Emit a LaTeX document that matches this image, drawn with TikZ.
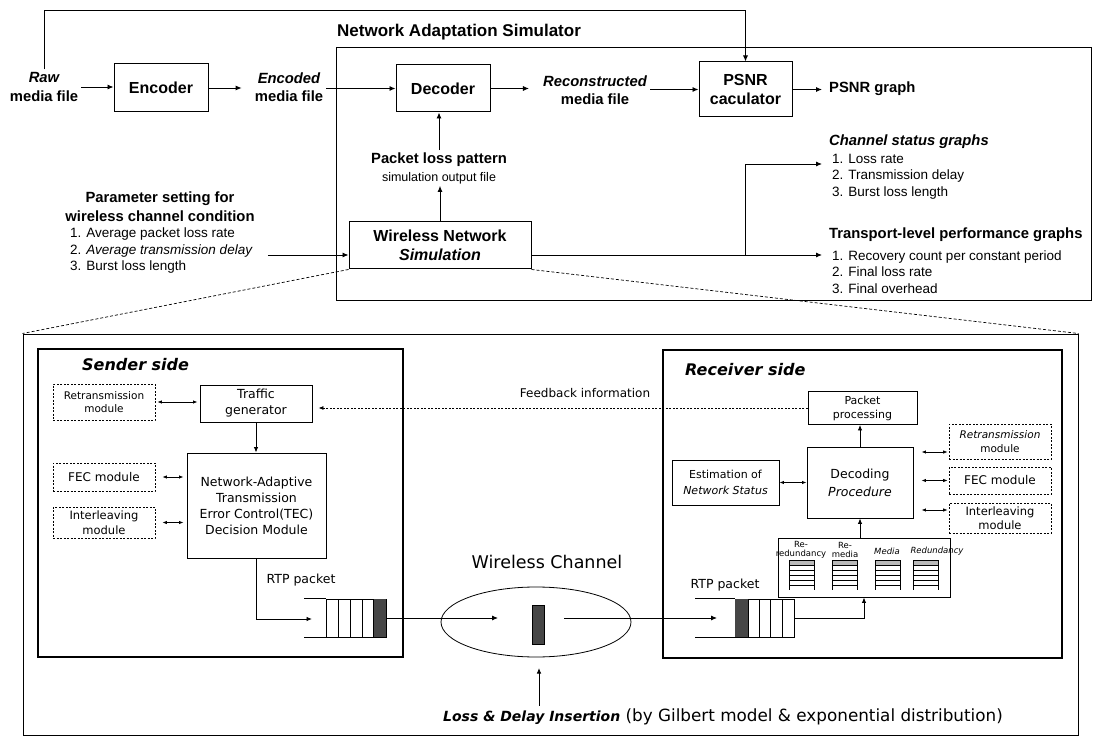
\documentclass[tikz,border=0pt]{standalone}
\usepackage{fontspec}
\setmainfont{Liberation Sans}
\newfontfamily\cfont{DejaVu Sans}
\usetikzlibrary{arrows.meta,shapes.geometric,calc}
\newcommand{\myfs}[2]{\fontsize{#1}{#2}\selectfont}
\begin{document}
\begin{tikzpicture}[x=1pt,y=-1pt,
  arr/.style={-{Latex[length=6pt,width=5pt]}, line width=0.9pt},
  sarr/.style={-{Latex[length=5.5pt,width=4.5pt]}, line width=0.9pt},
  darr/.style={{Latex[length=4.5pt,width=3.5pt]}-{Latex[length=4.5pt,width=3.5pt]}, line width=0.8pt},
  bigbox/.style={draw, line width=1pt, inner sep=0pt, font=\myfs{16}{19}\bfseries, align=center},
  lab/.style={inner sep=3pt, font=\myfs{14.8}{18.5}\bfseries, align=center},
  lst/.style={inner sep=0pt, font=\myfs{13.5}{16.5}, align=left},
  cbox/.style={draw, line width=0.9pt, inner sep=0pt, align=center, font=\cfont\myfs{12.5}{16}},
  dbox/.style={draw, dash pattern=on 2pt off 1.5pt, line width=0.8pt, inner sep=0pt, align=center, font=\cfont\myfs{10.5}{13.5}},
  zoomline/.style={dash pattern=on 3pt off 2pt, line width=0.7pt},
  fbline/.style={dash pattern=on 2pt off 1.5pt, line width=0.8pt, -{Latex[length=5pt,width=4pt]}},
  side/.style={draw, line width=1.4pt, inner sep=0pt},
  ctext/.style={inner sep=0pt, font=\cfont\myfs{12.5}{15}},
]
\useasboundingbox (0,0) rectangle (1093,738);

% ---------------- top part ----------------
\node[lab] (raw) at (44,87) {{\itshape Raw}\\media file};
\node[bigbox, minimum width=94, minimum height=48] (enc) at (161,88) {Encoder};
\node[lab] (encd) at (289,87) {{\itshape Encoded}\\media file};
\node[anchor=west, inner sep=0pt, font=\myfs{17}{20}\bfseries] (title) at (337,32) {Network Adaptation Simulator};
\node[draw, line width=1pt, minimum width=755, minimum height=253, inner sep=0pt] (nas) at (713.5,174.5) {};
\node[bigbox, minimum width=94, minimum height=47] (dec) at (443,88.5) {Decoder};
\node[lab] (recon) at (595,90) {{\itshape Reconstructed}\\media file};
\node[bigbox, minimum width=93, minimum height=55] (psnr) at (745.5,89.5) {PSNR\\caculator};
\node[lab, anchor=west] (pg) at (826,89) {PSNR graph};

\coordinate (loopR) at (745.5,10);
\draw[arr] (raw.north) |- (loopR) -- (psnr.north);
\draw[arr] (raw.east) -- (raw.east -| enc.west);
\draw[arr, shorten >=10pt] (enc.east) -- (enc.east -| encd.west);
\draw[arr] (encd.east |- dec.west) -- (dec.west);
\draw[arr, shorten >=11pt] (dec.east) -- (dec.east -| recon.west);
\draw[arr] (recon.east |- psnr.west) -- (psnr.west);
\draw[arr, shorten >=4pt] (psnr.east) -- (psnr.east -| pg.west);

\node[inner sep=2pt, align=center, font=\myfs{13}{18}] (plp) at (439,168)
  {{\myfs{14.8}{18}\bfseries Packet loss pattern}\\{\myfs{12.5}{18}simulation output file}};
\node[bigbox, minimum width=182, minimum height=47] (wns) at (440,245.5) {Wireless Network\\\itshape Simulation};
\draw[arr] (wns.north) -- (wns.north |- plp.south);
\draw[arr] (plp.north) -- (plp.north |- dec.south);

\node[lab] (paramH) at (160,206.5) {Parameter setting for\\wireless channel condition};
\node[lst, anchor=west] (paramL) at (70,251) {1. Average packet loss rate\\2. \textit{Average transmission delay}\\3. Burst loss length};

\coordinate (jn) at (745,255);
\coordinate (chanIn) at (822,164);
\coordinate (transIn) at (822,255);
\draw[arr, shorten <=15pt] (paramL.east |- jn) -- (wns.west |- jn);
\draw[line width=0.9pt] (wns.east |- jn) -- (jn);
\draw[arr] (jn) |- (chanIn);
\draw[arr] (jn) -- (transIn);
\node[lab, anchor=west, inner sep=0pt] (chanH) at (829,142) {\itshape Channel status graphs};
\node[lst, anchor=west] (chanL) at (832,176.5) {1. Loss rate\\2. Transmission delay\\3. Burst loss length};
\node[lab, anchor=west, inner sep=0pt] (transH) at (829,235) {Transport-level performance graphs};
\node[lst, anchor=west] (transL) at (832,272) {1. Recovery count per constant period\\2. Final loss rate\\3. Final overhead};

% ---------------- lower part ----------------
\node[draw, line width=1pt, minimum width=1055, minimum height=401, inner sep=0pt] (outer) at (550.5,534.5) {};
\draw[zoomline] (wns.south west) -- (outer.north west);
\draw[zoomline] (wns.south east) -- (outer.north east);

\node[side, minimum width=365, minimum height=308] (sender) at (220.5,503) {};
\node[side, minimum width=399, minimum height=308] (receiver) at (862.5,504) {};
\node[anchor=west, inner sep=0pt, font=\cfont\myfs{16}{19}\bfseries\itshape] (stitle) at (82,365) {Sender side};
\node[anchor=west, inner sep=0pt, font=\cfont\myfs{16}{19}\bfseries\itshape] (rtitle) at (685,370) {Receiver side};

% sender modules
\node[dbox, minimum width=102, minimum height=36] (sretx) at (104,402) {Retransmission\\module};
\node[cbox, minimum width=112, minimum height=37] (traffic) at (256,403.5) {Traffic\\generator};
\node[dbox, minimum width=102, minimum height=28, font=\cfont\myfs{12}{14}] (sfec) at (104,477) {FEC module};
\node[dbox, minimum width=102, minimum height=31, font=\cfont\myfs{11.5}{14.5}] (sint) at (104,522.5) {Interleaving\\module};
\node[cbox, minimum width=139, minimum height=105] (tec) at (256.5,505.5) {Network-Adaptive\\Transmission\\Error Control(TEC)\\Decision Module};
\draw[darr, shorten <=2pt, shorten >=2pt] (sretx.east) -- (sretx.east -| traffic.west);
\draw[darr, shorten <=7pt, shorten >=3pt] (sfec.east) -- (sfec.east -| tec.west);
\draw[darr, shorten <=7pt, shorten >=3pt] (sint.east) -- (sint.east -| tec.west);
\draw[sarr] (traffic.south) -- (traffic.south |- tec.north);

% sender queue
\node[ctext] (srtp) at (301,580) {RTP packet};
\node[draw, line width=0.9pt, minimum width=60, minimum height=38, inner sep=0pt] (sq) at (356,618) {};
\fill[gray!55!black] (373,599) rectangle (386,637);
\foreach \xx in {338,350,362,373} \draw[line width=0.8pt] (\xx,599) -- (\xx,637);
\draw[line width=0.8pt] (sq.north west) -- ++(-22,0);
\draw[line width=0.8pt] (sq.south west) -- ++(-22,0);
\coordinate (sqIn) at (312,619);
\draw[sarr] (tec.south) |- (sqIn);

% channel
\node[draw, ellipse, line width=0.8pt, minimum width=190, minimum height=70, inner sep=0pt] (chan) at (536,622) {};
\node[inner sep=0pt, font=\cfont\myfs{17.5}{20}] (chanlab) at (547,562) {Wireless Channel};
\node[draw, fill=gray!55!black, line width=0.6pt, minimum width=12, minimum height=39, inner sep=0pt] (cpkt) at (538,624.5) {};
\coordinate (chIn) at (498,618);
\coordinate (chOut) at (564,618);
\coordinate (rqIn) at (717,618);
\draw[arr] (sq.east) -- (sq.east -| chIn);
\draw[arr] (chOut) -- (rqIn);

\node[anchor=west, inner sep=0pt, font=\cfont\myfs{16.8}{19}] (loss) at (443,717)
  {{\myfs{14}{17}\bfseries\itshape Loss \& Delay Insertion} (by Gilbert model \& exponential distribution)};
\coordinate (lossTip) at (539,668);
\draw[sarr, shorten <=3pt] (lossTip |- loss.north) -- (lossTip);

% receiver queue
\node[ctext] (rrtp) at (725,585) {RTP packet};
\node[draw, line width=0.9pt, minimum width=59, minimum height=38, inner sep=0pt] (rq) at (764.5,618) {};
\fill[gray!55!black] (735,599) rectangle (748,637);
\foreach \xx in {748,759,770,782} \draw[line width=0.8pt] (\xx,599) -- (\xx,637);
\draw[line width=0.8pt] (rq.north west) -- ++(-40,0);
\draw[line width=0.8pt] (rq.south west) -- ++(-40,0);

% buffer
\node[draw, line width=0.9pt, minimum width=172, minimum height=59, inner sep=0pt] (buf) at (864,567.5) {};
\foreach \xx in {789,832,875,913} {
  \fill[gray!55] (\xx,560) rectangle (\xx+25,565);
  \foreach \yy in {560,565,570,575,580,585} \draw[line width=0.7pt] (\xx,\yy) -- (\xx+25,\yy);
  \draw[line width=0.9pt] (\xx,560) -- (\xx,590);
  \draw[line width=0.9pt] (\xx+25,560) -- (\xx+25,590);
}
\node[inner sep=0pt, align=center, font=\cfont\myfs{8.5}{9}] (lb1) at (801,549.5) {Re-\\redundancy};
\node[inner sep=0pt, align=center, font=\cfont\myfs{8.5}{9}] (lb2) at (845,549.5) {Re-\\media};
\node[inner sep=0pt, font=\cfont\myfs{8.5}{9}\itshape] (lb3) at (887,551) {Media};
\node[inner sep=0pt, font=\cfont\myfs{8.5}{9}\itshape] (lb4) at (937,551) {Redundancy};
\draw[sarr] (rq.east) -| (buf.south);

% receiver modules
\node[cbox, minimum width=106, minimum height=71, font=\cfont\myfs{12.5}{18}] (dcd) at (860,482.5) {Decoding\\\itshape Procedure};
\node[cbox, minimum width=109, minimum height=33, font=\cfont\myfs{11}{14}] (pp) at (862.5,408) {Packet\\processing};
\node[cbox, minimum width=107, minimum height=45, font=\cfont\myfs{11}{15.5}] (est) at (725.5,482.5) {Estimation of\\\itshape Network Status};
\node[dbox, minimum width=102, minimum height=35, font=\cfont\myfs{10.5}{14}\itshape] (rretx) at (1000,441.5) {Retransmission\\\upshape module};
\node[dbox, minimum width=102, minimum height=27, font=\cfont\myfs{12}{14}] (rfec) at (1000,480.5) {FEC module};
\node[dbox, minimum width=102, minimum height=30, font=\cfont\myfs{11.5}{14.5}] (rint) at (1000,518) {Interleaving\\module};
\coordinate (rr1) at ([yshift=-10.5pt]rretx.west);
\coordinate (rr3) at ([yshift=8pt]rint.west);
\draw[darr, shorten <=8pt, shorten >=1pt] (dcd.east |- rr1) -- (rr1);
\draw[darr, shorten <=8pt, shorten >=1pt] (dcd.east |- rfec.west) -- (rfec.west);
\draw[darr, shorten <=8pt, shorten >=1pt] (dcd.east |- rr3) -- (rr3);
\draw[darr] (est.east) -- (est.east -| dcd.west);
\draw[sarr] (dcd.south |- buf.north) -- (dcd.south);
\draw[sarr] (dcd.north) -- (dcd.north |- pp.south);

% feedback
\draw[fbline, shorten >=6pt] (pp.west) -- (pp.west -| traffic.east);
\node[inner sep=0pt, font=\cfont\myfs{12}{14}] (fb) at (585,393) {Feedback information};
\end{tikzpicture}
\end{document}
